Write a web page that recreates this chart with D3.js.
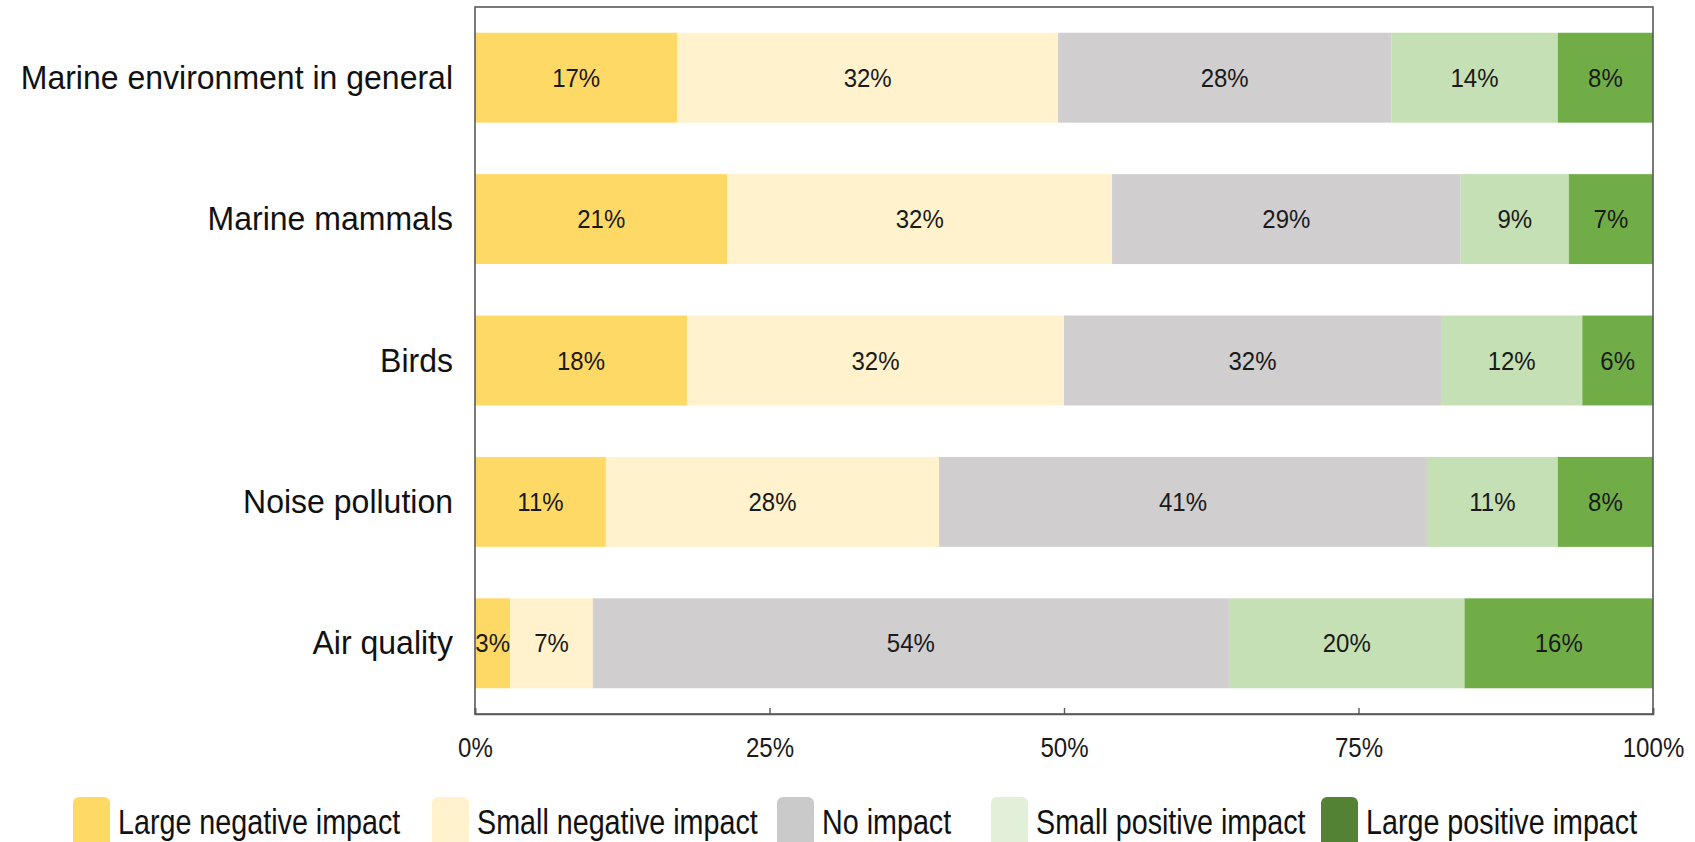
<!DOCTYPE html>
<html>
<head>
<meta charset="utf-8">
<script src="https://cdn.jsdelivr.net/npm/d3@7/dist/d3.min.js"></script>
<style>
  html, body { margin: 0; padding: 0; background: #ffffff; }
  svg { display: block; font-family: "Liberation Sans", Arial, sans-serif; }
</style>
</head>
<body>
<svg id="chart" width="1695" height="842"></svg>
<script>
// Survey topics, top to bottom
const categories = [
  "Marine environment in general",
  "Marine mammals",
  "Birds",
  "Noise pollution",
  "Air quality"
];

// Impact levels, left to right
const seriesNames = [
  "Large negative impact",
  "Small negative impact",
  "No impact",
  "Small positive impact",
  "Large positive impact"
];

// Percent of respondents per impact level (one array per level, aligned with categories)
const largeNegative = [17, 21, 18, 11, 3];
const smallNegative = [32, 32, 32, 28, 7];
const noImpact      = [28, 29, 32, 41, 54];
const smallPositive = [14, 9, 12, 11, 20];
const largePositive = [8, 7, 6, 8, 16];

const xTickValues = [0, 0.25, 0.5, 0.75, 1];

const barColors    = ["#FFD966", "#FFF2CC", "#D0CECE", "#C5E0B4", "#70AD47"];
const legendColors = ["#FFD966", "#FFF2CC", "#CBCACA", "#E2F0D9", "#548235"];

const seriesValues = [largeNegative, smallNegative, noImpact, smallPositive, largePositive];

// Rows for a 100% stacked layout: each share is divided by its row total
const rows = categories.map((cat, i) => {
  const row = { category: cat };
  seriesNames.forEach((s, k) => { row[s] = seriesValues[k][i]; });
  row.total = d3.sum(seriesValues, v => v[i]);
  return row;
});

const stack = d3.stack()
  .keys(seriesNames)
  .value((d, key) => d[key] / d.total);
const layers = stack(rows);

const svg = d3.select("#chart");
const plot = { left: 475, right: 1653, top: 7, bottom: 714 };

const x = d3.scaleLinear().domain([0, 1]).range([plot.left, plot.right]);
const y = d3.scaleBand()
  .domain(categories)
  .range([plot.top, plot.bottom])
  .paddingInner(0.364)
  .paddingOuter(0.182);

// Stacked segments
const layerG = svg.append("g").selectAll("g")
  .data(layers)
  .join("g")
  .attr("fill", (d, i) => barColors[i]);

layerG.selectAll("rect")
  .data(d => d.map(p => ({ p, key: d.key })))
  .join("rect")
  .attr("x", d => x(d.p[0]))
  .attr("y", d => y(d.p.data.category))
  .attr("width", d => x(d.p[1]) - x(d.p[0]))
  .attr("height", y.bandwidth());

// Value labels centred in each segment
const labelG = svg.append("g");
layers.forEach((layer, k) => {
  layer.forEach(p => {
    const cx = (x(p[0]) + x(p[1])) / 2;
    const cy = y(p.data.category) + y.bandwidth() / 2;
    labelG.append("text")
      .attr("transform", `translate(${cx},${cy + 9}) scale(0.96,1)`)
      .attr("text-anchor", "middle")
      .attr("font-size", 25)
      .attr("fill", "#1a1a1a")
      .text(p.data[layer.key] + "%");
  });
});

// Plot frame
svg.append("rect")
  .attr("x", plot.left)
  .attr("y", plot.top)
  .attr("width", plot.right - plot.left)
  .attr("height", plot.bottom - plot.top)
  .attr("fill", "none")
  .attr("stroke", "#595959")
  .attr("stroke-width", 1.6);

// Bottom axis: short inward ticks and percent labels
const xAxis = d3.axisBottom(x)
  .tickValues(xTickValues)
  .tickSize(-6)
  .tickFormat(d3.format(".0%"));

const axG = svg.append("g")
  .attr("transform", `translate(0,${plot.bottom})`)
  .call(xAxis);
axG.select(".domain").attr("stroke", "#595959").attr("stroke-width", 1.6);
axG.selectAll(".tick line").attr("stroke", "#595959").attr("stroke-width", 1.4);
axG.selectAll(".tick text")
  .attr("font-size", 28)
  .attr("font-family", "Liberation Sans, Arial, sans-serif")
  .attr("fill", "#1a1a1a")
  .attr("y", 0)
  .attr("dy", 0)
  .attr("transform", "translate(0,43) scale(0.86,1)");

// Category labels
svg.append("g").selectAll("text")
  .data(categories)
  .join("text")
  .attr("transform", d => `translate(453,${y(d) + y.bandwidth() / 2 + 11}) scale(0.97,1)`)
  .attr("text-anchor", "end")
  .attr("font-size", 33)
  .attr("fill", "#111")
  .text(d => d);

// Legend
const legendSwatchX = [73, 432, 777, 991, 1321];
const legendG = svg.append("g");
seriesNames.forEach((name, i) => {
  legendG.append("rect")
    .attr("x", legendSwatchX[i])
    .attr("y", 797)
    .attr("width", 37)
    .attr("height", 52)
    .attr("rx", 6)
    .attr("fill", legendColors[i]);
  legendG.append("text")
    .attr("transform", `translate(${legendSwatchX[i] + 45},834) scale(0.82,1)`)
    .attr("font-size", 35)
    .attr("fill", "#111")
    .text(name);
});
</script>
</body>
</html>
